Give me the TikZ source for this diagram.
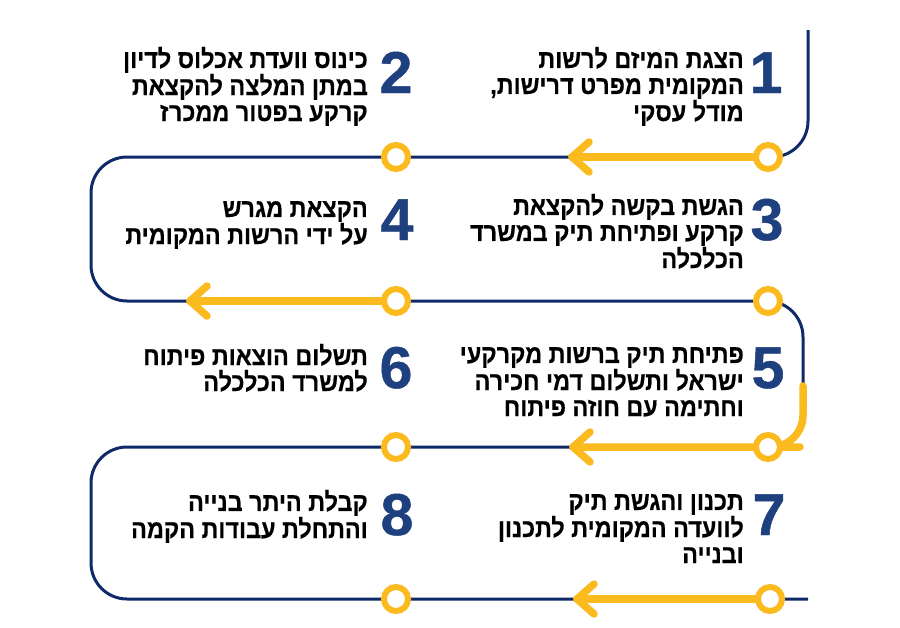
\documentclass[tikz,border=0pt]{standalone}
\usepackage{fontspec}
\TeXXeTstate=1
\newfontfamily\hebfont[Script=Hebrew, FakeStretch=0.9, FakeBold=0.4]{Liberation Sans}
\newfontfamily\numfont[FakeBold=0.8]{Liberation Sans}
\definecolor{navyline}{RGB}{14,42,104}
\definecolor{numblue}{RGB}{30,64,126}
\definecolor{sunyellow}{RGB}{251,186,30}
\tikzset{
  pathline/.style={draw=navyline, line width=3pt},
  yshaft/.style={draw=sunyellow, line width=7.5pt, line cap=round, line join=round},
  ring/.style={circle, draw=sunyellow, fill=white, line width=6pt, minimum size=24pt, inner sep=0pt},
  stepnum/.style={font=\numfont\bfseries\fontsize{59}{59}\selectfont, text=numblue, inner sep=0pt, anchor=base},
  steptext/.style={font=\hebfont\bfseries\fontsize{26}{26}\selectfont, align=right, inner sep=0pt, anchor=base east}
}
\begin{document}
\begin{tikzpicture}[x=1pt,y=-1pt]
\useasboundingbox[fill=white] (0,0) rectangle (900,627);
% corner / end coordinates
\coordinate (start) at (808,30);
\coordinate (ra) at (808,157);
\coordinate (la) at (91,157);
\coordinate (lb) at (91,301);
\coordinate (rb) at (803,301);
\coordinate (rc) at (803,447);
\coordinate (lc) at (91,447);
\coordinate (ld) at (91,599);
\coordinate (finish) at (808,599);
% main serpentine path
\draw[pathline, rounded corners=36pt] (start) -- (ra) -- (la) -- (lb) -- (rb) -- (rc) -- (lc) -- (ld) -- (finish);
% yellow arrows
\coordinate (t1) at (572,157);
\coordinate (t2) at (190,301);
\coordinate (t3) at (573,447);
\coordinate (t4) at (577,599);
\coordinate (ys) at (803,386);
\draw[yshaft] (768,157) -- (t1);
\draw[yshaft] ([shift={(17,-15)}]t1) -- (t1) -- ([shift={(17,15)}]t1);
\draw[yshaft] (396,301) -- (t2);
\draw[yshaft] ([shift={(17,-15)}]t2) -- (t2) -- ([shift={(17,15)}]t2);
\draw[yshaft, rounded corners=32pt] (ys) -- (rc) -- (768,447) -- (t3);
\draw[yshaft] ([shift={(17,-15)}]t3) -- (t3) -- ([shift={(17,15)}]t3);
\draw[yshaft] (770,599) -- (t4);
\draw[yshaft] ([shift={(17,-15)}]t4) -- (t4) -- ([shift={(17,15)}]t4);
% rings
\node[ring] (c1) at (768,157) {};
\node[ring] (c2) at (396,157) {};
\node[ring] (c3) at (768,301) {};
\node[ring] (c4) at (396,301) {};
\node[ring] (c5) at (768,447) {};
\node[ring] (c6) at (396,447) {};
\node[ring] (c7) at (770,599) {};
\node[ring] (c8) at (396,599) {};
% numbers
\node[stepnum] (n1) at (766,93) {1};
\node[stepnum] (n2) at (396,93) {2};
\node[stepnum] (n3) at (767,240) {3};
\node[stepnum] (n4) at (397,240) {4};
\node[stepnum] (n5) at (768,388) {5};
\node[stepnum] (n6) at (396,388) {6};
\node[stepnum] (n7) at (769,535) {7};
\node[stepnum] (n8) at (397,535) {8};
% texts (anchor = baseline of last line)
\node[steptext] (s1) at (744,121) {\beginR הצגת המיזם לרשות\endR\\\beginR המקומית מפרט דרישות,\endR\\\beginR מודל עסקי\endR};
\node[steptext] (s2) at (368,121) {\beginR כינוס וועדת אכלוס לדיון\endR\\\beginR במתן המלצה להקצאת\endR\\\beginR קרקע בפטור ממכרז\endR};
\node[steptext] (s3) at (744,268) {\beginR הגשת בקשה להקצאת\endR\\\beginR קרקע ופתיחת תיק במשרד\endR\\\beginR הכלכלה\endR};
\node[steptext] (s4) at (368,244) {\beginR הקצאת מגרש\endR\\\beginR על ידי הרשות המקומית\endR};
\node[steptext] (s5) at (744,416) {\beginR פתיחת תיק ברשות מקרקעי\endR\\\beginR ישראל ותשלום דמי חכירה\endR\\\beginR וחתימה עם חוזה פיתוח\endR};
\node[steptext] (s6) at (368,391) {\beginR תשלום הוצאות פיתוח\endR\\\beginR למשרד הכלכלה\endR};
\node[steptext] (s7) at (744,563) {\beginR תכנון והגשת תיק\endR\\\beginR לוועדה המקומית לתכנון\endR\\\beginR ובנייה\endR};
\node[steptext] (s8) at (368,538) {\beginR קבלת היתר בנייה\endR\\\beginR והתחלת עבודות הקמה\endR};
\end{tikzpicture}
\end{document}
